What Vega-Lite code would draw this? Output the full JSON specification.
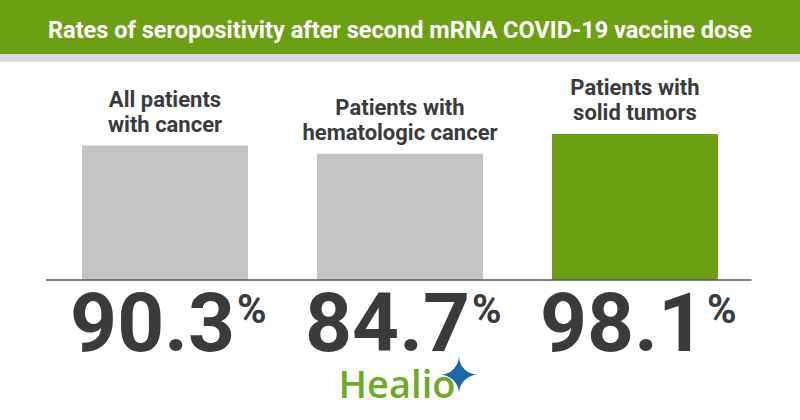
{
  "$schema": "https://vega.github.io/schema/vega-lite/v6.json",
  "width": 800,
  "height": 420,
  "padding": 0,
  "autosize": {"type": "fit", "contains": "padding"},
  "background": "#ffffff",
  "config": {"view": {"stroke": null}, "text": {"font": "Roboto"}},
  "data": {
    "values": [
      {"group": "All patients with cancer", "label": "All patients\nwith cancer", "value": 90.3, "kind": "other"},
      {"group": "Patients with hematologic cancer", "label": "Patients with\nhematologic cancer", "value": 84.7, "kind": "other"},
      {"group": "Patients with solid tumors", "label": "Patients with\nsolid tumors", "value": 98.1, "kind": "solid"}
    ]
  },
  "layer": [
    {
      "data": {"values": [{"top": 188, "bottom": 151.7, "fill": "banner"}, {"top": 151.7, "bottom": 146.6, "fill": "strip"}]},
      "mark": {"type": "rect"},
      "encoding": {
        "y": {"field": "top", "type": "quantitative", "scale": {"domain": [-94, 188], "nice": false, "zero": false}, "axis": null},
        "y2": {"field": "bottom"},
        "fill": {"field": "fill", "type": "nominal", "scale": {"domain": ["banner", "strip"], "range": ["#6c9f12", "#dadada"]}, "legend": null}
      }
    },
    {
      "mark": {"type": "bar"},
      "encoding": {
        "x": {"field": "group", "type": "nominal", "scale": {"domain": ["All patients with cancer", "Patients with hematologic cancer", "Patients with solid tumors"], "paddingInner": 0.2936, "paddingOuter": 0.349}, "axis": null},
        "y": {"field": "value", "type": "quantitative", "scale": {"domain": [-94, 188], "nice": false, "zero": false}, "axis": null},
        "color": {"field": "kind", "type": "nominal", "scale": {"domain": ["other", "solid"], "range": ["#c4c4c4", "#6c9f12"]}, "legend": null}
      }
    },
    {
      "mark": {"type": "text", "fontWeight": "bold", "fontSize": 22, "lineBreak": "\n", "lineHeight": 25, "color": "#3a3b3d", "align": "center", "baseline": "alphabetic", "dy": -39},
      "encoding": {
        "x": {"field": "group", "type": "nominal"},
        "y": {"field": "value", "type": "quantitative"},
        "text": {"field": "label"}
      }
    },
    {
      "mark": {"type": "text", "fontWeight": "bold", "fontSize": 82, "color": "#3a3b3d", "align": "right", "baseline": "alphabetic", "dx": 70, "dy": 71},
      "encoding": {
        "x": {"field": "group", "type": "nominal"},
        "y": {"datum": 0, "type": "quantitative"},
        "text": {"field": "value", "type": "quantitative", "format": ".1f"}
      }
    },
    {
      "mark": {"type": "text", "text": "%", "fontWeight": "bold", "fontSize": 40, "color": "#3a3b3d", "align": "left", "baseline": "alphabetic", "dx": 72, "dy": 43},
      "encoding": {
        "x": {"field": "group", "type": "nominal"},
        "y": {"datum": 0, "type": "quantitative"}
      }
    },
    {
      "data": {"values": [{"line": "base"}]},
      "mark": {"type": "rule", "color": "#555759", "strokeWidth": 1.5, "xOffset": -119, "x2Offset": 116.5},
      "encoding": {
        "x": {"datum": "All patients with cancer", "type": "nominal"},
        "x2": {"datum": "Patients with solid tumors"},
        "y": {"datum": 0, "type": "quantitative"}
      }
    },
    {
      "data": {"values": [{"logo": "Healio", "star": "✦", "title": "Rates of seropositivity after second mRNA COVID-19 vaccine dose"}]},
      "encoding": {
        "x": {"datum": "Patients with hematologic cancer", "type": "nominal"}
      },
      "layer": [
        {
          "mark": {"type": "text", "font": "Roboto", "fontWeight": "bold", "fontSize": 23.5, "color": "#ffffff", "align": "center", "baseline": "alphabetic"},
          "encoding": {"y": {"datum": 162.5, "type": "quantitative"}, "text": {"field": "title"}}
        },
        {
          "mark": {"type": "text", "font": "Open Sans", "fontWeight": 600, "fontSize": 38, "color": "#6eab2c", "align": "center", "baseline": "alphabetic", "dx": -3, "dy": 118},
          "encoding": {"y": {"datum": 0, "type": "quantitative"}, "text": {"field": "logo"}}
        },
        {
          "mark": {"type": "text", "font": "DejaVu Sans", "fontSize": 50, "color": "#1d68a6", "align": "center", "baseline": "middle", "dx": 59, "dy": 98},
          "encoding": {"y": {"datum": 0, "type": "quantitative"}, "text": {"field": "star"}}
        }
      ]
    }
  ]
}
